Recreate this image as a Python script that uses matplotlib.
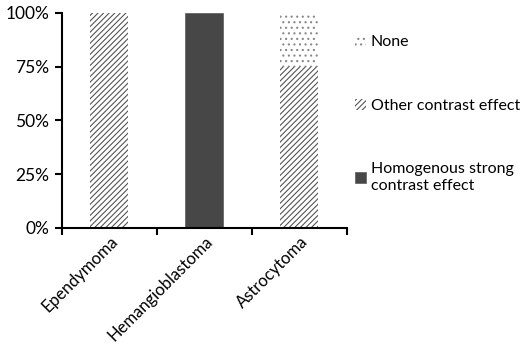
import matplotlib
matplotlib.use('Agg')
import matplotlib.pyplot as plt
from matplotlib.patches import Patch
import numpy as np

# Данные
categories = ['Ependymoma', 'Hemangioblastoma', 'Astrocytoma']
homogenous = [0, 100, 0]
other = [100, 0, 75]
none = [0, 0, 25]
series_labels = ['None', 'Other contrast effect', 'Homogenous strong\ncontrast effect']

plt.rcParams['font.family'] = ['Lato', 'DejaVu Sans']
plt.rcParams['hatch.linewidth'] = 0.8

fig = plt.figure(figsize=(5.24, 3.5), dpi=100)
ax = fig.add_axes([0.118, 0.349, 0.544, 0.614])

x = np.arange(len(categories))
w = 0.4
homogenous = np.array(homogenous)
other = np.array(other)
none = np.array(none)

# Столбцы с накоплением
ax.bar(x, homogenous, w, color='#474747', edgecolor='#5a5a5a', linewidth=0.5)
ax.bar(x, other, w, bottom=homogenous, color='white', edgecolor='#555555',
       hatch='//////', linewidth=0)
ax.bar(x, none, w, bottom=homogenous + other, color='white', edgecolor='#888888',
       hatch='...', linewidth=0)

ax.set_xlim(-0.5, 2.5)
ax.set_ylim(0, 100)
ax.set_yticks([0, 25, 50, 75, 100])
ax.set_yticklabels(['0%', '25%', '50%', '75%', '100%'], fontsize=12.5)

# Деления между категориями, подписи по центру
ax.set_xticks([-0.5, 0.5, 1.5, 2.5])
ax.set_xticklabels([])
ax.set_xticks(x, minor=True)
ax.set_xticklabels(categories, minor=True, rotation=45, ha='right',
                   rotation_mode='anchor', fontsize=12)
ax.tick_params(axis='x', which='minor', length=0, pad=4)
ax.tick_params(axis='x', which='major', length=5, width=1.5, direction='out')
ax.tick_params(axis='y', length=5, width=1.5, direction='out', pad=4)

for s in ['top', 'right']:
    ax.spines[s].set_visible(False)
for s in ['left', 'bottom']:
    ax.spines[s].set_linewidth(1.5)

# Легенда
handles = [
    Patch(facecolor='white', edgecolor='#888888', hatch='...', linewidth=0),
    Patch(facecolor='white', edgecolor='#555555', hatch='//////', linewidth=0),
    Patch(facecolor='#474747', edgecolor='#5a5a5a', linewidth=0.5),
]
fig.legend(handles, series_labels, loc='upper left', bbox_to_anchor=(0.677, 0.9),
           frameon=False, fontsize=11.5, handlelength=0.7, handleheight=0.7,
           handletextpad=0.3, labelspacing=3.1, borderpad=0, borderaxespad=0)

fig.savefig('out.png', dpi=100)
